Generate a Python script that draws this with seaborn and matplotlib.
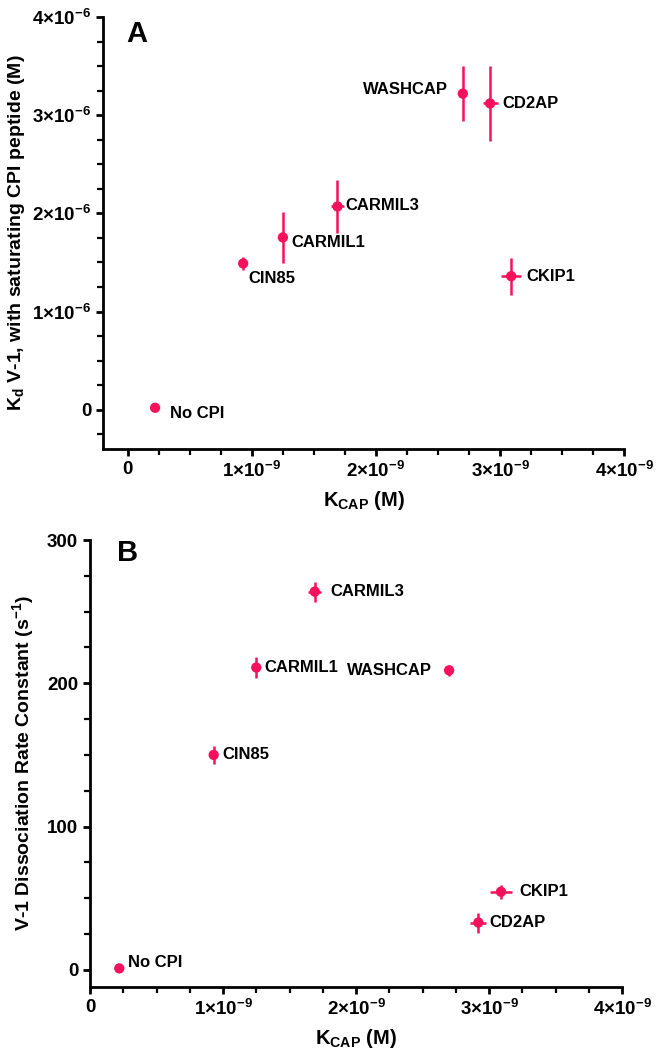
import numpy as np
import pandas as pd
import matplotlib
matplotlib.use('Agg')
import matplotlib.pyplot as plt
import seaborn as sns

# values
names = ['No CPI', 'CIN85', 'CARMIL1', 'CARMIL3', 'WASHCAP', 'CD2AP', 'CKIP1']
kcap = [0.22e-9, 0.93e-9, 1.25e-9, 1.69e-9, 2.70e-9, 2.92e-9, 3.09e-9]
kcap_err = [0.0, 0.01e-9, 0.01e-9, 0.05e-9, 0.02e-9, 0.06e-9, 0.08e-9]
kd = [0.02e-6, 1.49e-6, 1.755e-6, 2.07e-6, 3.22e-6, 3.12e-6, 1.36e-6]
kd_err = [0.0, 0.07e-6, 0.26e-6, 0.265e-6, 0.28e-6, 0.38e-6, 0.19e-6]
koff = [1, 150, 211, 264, 209, 33, 54.5]
koff_err = [0, 6, 7, 7, 4, 7, 5]

x_ticks = [0, 1e-9, 2e-9, 3e-9, 4e-9]
x_ticklabels = ['0', r'$1{\times}10^{-9}$', r'$2{\times}10^{-9}$', r'$3{\times}10^{-9}$', r'$4{\times}10^{-9}$']
kd_ticks = [0, 1e-6, 2e-6, 3e-6, 4e-6]
kd_ticklabels = ['0', r'$1{\times}10^{-6}$', r'$2{\times}10^{-6}$', r'$3{\times}10^{-6}$', r'$4{\times}10^{-6}$']
koff_ticks = [0, 100, 200, 300]

df = pd.DataFrame({'name': names, 'kcap': kcap, 'kcap_err': kcap_err,
                   'kd': kd, 'kd_err': kd_err, 'koff': koff, 'koff_err': koff_err})

# label placement (offset in points, alignment)
lab_a = {'No CPI': (11, -4, 'left'), 'CIN85': (4, -11, 'left'), 'CARMIL1': (6, -4, 'left'),
         'CARMIL3': (6, 1, 'left'), 'WASHCAP': (-11, 3, 'right'), 'CD2AP': (9, 0, 'left'),
         'CKIP1': (11, 0, 'left')}
lab_b = {'No CPI': (6, 4, 'left'), 'CIN85': (6, 0, 'left'), 'CARMIL1': (6, 0, 'left'),
         'CARMIL3': (11, 0, 'left'), 'WASHCAP': (-12, 0, 'right'), 'CD2AP': (8, 0, 'left'),
         'CKIP1': (13, 0, 'left')}

sns.set_style('ticks')
plt.rcParams['font.family'] = ['Liberation Sans', 'DejaVu Sans']
plt.rcParams['font.weight'] = 'bold'
plt.rcParams['mathtext.fontset'] = 'custom'
plt.rcParams['mathtext.rm'] = 'Liberation Sans:bold'
plt.rcParams['mathtext.it'] = 'Liberation Sans:bold'
plt.rcParams['mathtext.bf'] = 'Liberation Sans:bold'
for k in ['text.color', 'axes.labelcolor', 'axes.edgecolor', 'xtick.color', 'ytick.color']:
    plt.rcParams[k] = 'black'

pink = '#F7105C'

fig = plt.figure(figsize=(6.58, 10.5), dpi=100)
ax1 = fig.add_axes([0.1565, 0.5724, 0.792, 0.4114])
ax2 = fig.add_axes([0.1368, 0.060, 0.8085, 0.4257])


def draw(ax, ycol, yerr, labels):
    ax.errorbar(df['kcap'], df[ycol], xerr=df['kcap_err'], yerr=df[yerr], fmt='none',
                ecolor=pink, elinewidth=1.8, capsize=0, zorder=2)
    sns.scatterplot(data=df, x='kcap', y=ycol, ax=ax, color=pink, s=55,
                    edgecolor='none', zorder=3, legend=False)
    for _, r in df.iterrows():
        dx, dy, ha = labels[r['name']]
        ax.annotate(r['name'], (r['kcap'], r[ycol]), xytext=(dx, dy),
                    textcoords='offset points', ha=ha, va='center',
                    fontsize=12, fontweight='bold')
    ax.set_xticks(x_ticks)
    ax.set_xticklabels(x_ticklabels)
    ax.set_xticks(np.arange(0, 4.01e-9, 0.25e-9), minor=True)
    ax.set_xlabel(r'K$_{\mathregular{CAP}}$ (M)', fontsize=14.5, fontweight='bold', labelpad=6)
    for s in ['left', 'bottom']:
        ax.spines[s].set_linewidth(2)
    sns.despine(ax=ax)
    ax.tick_params(which='major', length=5, width=2, labelsize=13.5)
    ax.tick_params(which='minor', length=4, width=1.6)
    for t in ax.get_xticklabels() + ax.get_yticklabels():
        t.set_fontweight('bold')


draw(ax1, 'kd', 'kd_err', lab_a)
ax1.set_xlim(-0.2e-9, 4e-9)
ax1.set_ylim(-0.4e-6, 4e-6)
ax1.set_yticks(kd_ticks)
ax1.set_yticklabels(kd_ticklabels)
ax1.set_yticks(np.arange(-0.25e-6, 4.01e-6, 0.25e-6), minor=True)
ax1.set_ylabel(r'K$_{\mathregular{d}}$ V-1, with saturating CPI peptide (M)',
               fontsize=14, fontweight='bold', labelpad=4)
ax1.text(0.045, 0.96, 'A', transform=ax1.transAxes, fontsize=21, fontweight='bold',
         va='center')

draw(ax2, 'koff', 'koff_err', lab_b)
ax2.set_xlim(0, 4e-9)
ax2.set_ylim(-12, 300)
ax2.set_yticks(koff_ticks)
ax2.set_yticks(np.arange(0, 301, 25), minor=True)
ax2.set_ylabel(r'V-1 Dissociation Rate Constant (s$^{-1}$)', fontsize=14,
               fontweight='bold', labelpad=8)
ax2.text(0.05, 0.97, 'B', transform=ax2.transAxes, fontsize=21, fontweight='bold',
         va='center')
for t in ax2.get_yticklabels():
    t.set_fontweight('bold')

fig.savefig('out.png', dpi=100)
